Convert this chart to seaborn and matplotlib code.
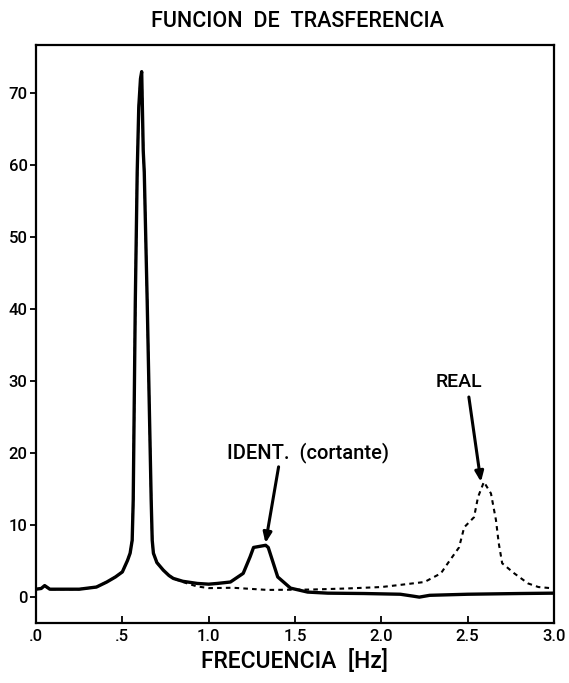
import numpy as np
import pandas as pd
import matplotlib
matplotlib.use("Agg")
import matplotlib.pyplot as plt
import seaborn as sns

# Transfer function amplitude: identified (shear model) vs. real response
freq_ident = [0.00, 0.03, 0.05, 0.08, 0.15, 0.25, 0.35, 0.41, 0.46, 0.50,
              0.53, 0.545, 0.557, 0.563, 0.575, 0.586, 0.595, 0.605, 0.612, 0.621,
              0.627, 0.644, 0.667, 0.673, 0.68, 0.70, 0.737, 0.77, 0.795, 0.85,
              0.934, 1.00, 1.05, 1.126, 1.20, 1.24, 1.26, 1.33, 1.345, 1.40,
              1.474, 1.573, 1.69, 1.90, 2.11, 2.18, 2.22, 2.28, 2.50, 2.80,
              3.00]
amp_ident = [1.1, 1.2, 1.6, 1.1, 1.1, 1.1, 1.4, 2.1, 2.8, 3.5,
             5.1, 6.1, 7.9, 13.5, 41.0, 59.0, 68.0, 72.0, 73.0, 62.0,
             59.0, 41.0, 13.5, 7.9, 6.1, 4.8, 3.75, 3.0, 2.6, 2.2,
             1.9, 1.8, 1.9, 2.1, 3.3, 5.6, 6.9, 7.2, 6.9, 2.8,
             1.25, 0.7, 0.55, 0.5, 0.4, 0.15, 0.0, 0.25, 0.4, 0.5,
             0.55]

freq_real = [0.00, 0.03, 0.05, 0.08, 0.15, 0.25, 0.35, 0.41, 0.46, 0.50,
             0.53, 0.545, 0.557, 0.563, 0.575, 0.586, 0.595, 0.605, 0.612, 0.621,
             0.627, 0.644, 0.667, 0.673, 0.68, 0.70, 0.737, 0.77, 0.795, 0.85,
             0.93, 1.00, 1.14, 1.34, 1.59, 1.80, 2.00, 2.11, 2.25, 2.345,
             2.385, 2.45, 2.48, 2.537, 2.56, 2.594, 2.635, 2.664, 2.68, 2.70,
             2.77, 2.85, 2.91, 2.98]
amp_real = [1.1, 1.2, 1.6, 1.1, 1.1, 1.1, 1.4, 2.1, 2.8, 3.5,
            5.1, 6.1, 7.9, 13.5, 41.0, 59.0, 68.0, 72.0, 73.0, 62.0,
            59.0, 41.0, 13.5, 7.9, 6.1, 4.8, 3.75, 3.0, 2.6, 2.1,
            1.5, 1.25, 1.3, 1.0, 1.05, 1.2, 1.4, 1.7, 2.1, 3.3,
            4.7, 6.9, 9.7, 11.1, 13.9, 16.0, 14.4, 10.7, 7.5, 4.7,
            3.3, 1.9, 1.4, 1.25]

x_ticks = [0.0, 0.5, 1.0, 1.5, 2.0, 2.5, 3.0]
x_tick_labels = [".0", ".5", "1.0", "1.5", "2.0", "2.5", "3.0"]
y_ticks = [0, 10, 20, 30, 40, 50, 60, 70]

sns.set_style("ticks")
plt.rcParams["font.family"] = ["Roboto", "DejaVu Sans"]
plt.rcParams["font.weight"] = "medium"
plt.rcParams["text.color"] = "black"
plt.rcParams["xtick.color"] = "black"
plt.rcParams["ytick.color"] = "black"
plt.rcParams["axes.labelcolor"] = "black"

df_ident = pd.DataFrame({"freq": freq_ident, "amp": amp_ident})
df_real = pd.DataFrame({"freq": freq_real, "amp": amp_real})

fig = plt.figure(figsize=(5.69, 6.83), dpi=100)
ax = fig.add_axes([0.0633, 0.0878, 0.9103, 0.8463])

sns.lineplot(data=df_real, x="freq", y="amp", ax=ax, color="black",
             lw=1.5, linestyle=(0, (2.2, 2.0)), sort=False, estimator=None)
sns.lineplot(data=df_ident, x="freq", y="amp", ax=ax, color="black",
             lw=2.4, sort=False, estimator=None)

ax.set_xlim(0, 3.0)
ax.set_ylim(-3.6, 76.7)
ax.set_xticks(x_ticks)
ax.set_xticklabels(x_tick_labels)
ax.set_yticks(y_ticks)
ax.tick_params(axis="x", direction="in", length=5, width=1.3, labelsize=12, pad=4)
ax.tick_params(axis="y", direction="out", length=4, width=1.3, labelsize=12, pad=2)
for s in ax.spines.values():
    s.set_visible(True)
    s.set_linewidth(1.6)
    s.set_color("black")

ax.set_xlabel("FRECUENCIA  [Hz]", fontsize=16.5, fontweight="medium", labelpad=4)
ax.set_ylabel("")
fig.text(0.522, 0.968, "FUNCION  DE  TRASFERENCIA", fontsize=15.5,
         ha="center", va="center")

arrow = dict(arrowstyle="-|>,head_length=0.6,head_width=0.25", color="black",
             lw=2.2, shrinkA=0, shrinkB=0)
ax.annotate("", xy=(1.329, 7.5), xytext=(1.405, 18.1), arrowprops=arrow)
ax.annotate("", xy=(2.577, 16.0), xytext=(2.507, 27.8), arrowprops=arrow)
ax.text(1.573, 20.1, "IDENT.  (cortante)", fontsize=14.5, ha="center", va="center")
ax.text(2.45, 29.9, "REAL", fontsize=14, ha="center", va="center")

fig.savefig("out.png", dpi=100)
